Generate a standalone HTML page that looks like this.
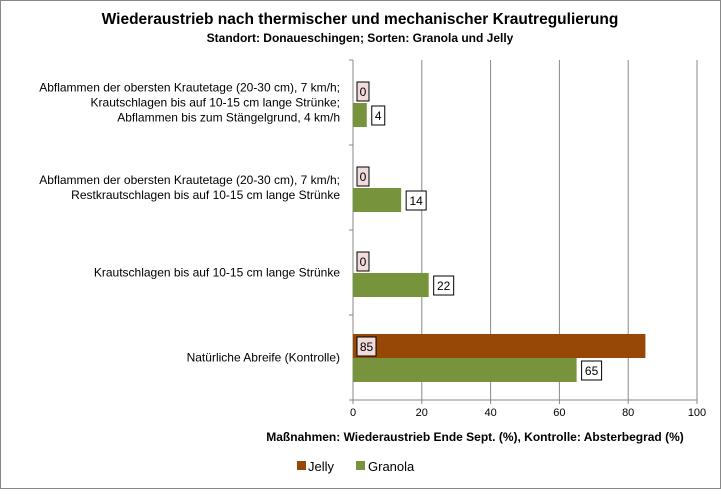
<!DOCTYPE html>
<html><head><meta charset="utf-8"><style>
body{margin:0;background:#fff;font-family:"Liberation Sans",Arial,sans-serif}
svg text{font-family:"Liberation Sans",Arial,sans-serif}
</style></head><body>
<svg id="c" width="721" height="489" xmlns="http://www.w3.org/2000/svg">
<rect x="0.5" y="0.5" width="720" height="488" fill="#fff" stroke="#888"/>
<text x="360" y="24" text-anchor="middle" font-size="15.5" font-weight="bold">Wiederaustrieb nach thermischer und mechanischer Krautregulierung</text>
<text x="360" y="42" text-anchor="middle" font-size="12" font-weight="bold">Standort: Donaueschingen;  Sorten: Granola und Jelly</text>
<text x="475" y="441" text-anchor="middle" font-size="12" font-weight="bold">Maßnahmen: Wiederaustrieb  Ende Sept. (%), Kontrolle: Absterbegrad  (%)</text>
<g>
<rect x="297" y="461" width="9" height="9" fill="#974706"/>
<text x="308" y="471" font-size="13">Jelly</text>
<rect x="356" y="461" width="9" height="9" fill="#77933c"/>
<text x="368" y="471" font-size="13">Granola</text>
</g>
<g id="plot"></g>
</svg>
<script>
const categories=[
 ["Abflammen der obersten Krautetage (20-30  cm), 7 km/h;","Krautschlagen bis auf 10-15  cm lange Strünke;","Abflammen bis zum Stängelgrund, 4  km/h"],
 ["Abflammen der obersten Krautetage (20-30  cm), 7 km/h;","Restkrautschlagen bis auf 10-15  cm lange Strünke"],
 ["Krautschlagen bis auf 10-15  cm lange Strünke"],
 ["Natürliche Abreife (Kontrolle)"]
];
const jelly=[0,0,0,85];
const granola=[4,14,22,65];
const ticks=[0,20,40,60,80,100];
const X0=353,X1=697,Y0=60,Y1=400;
const x=v=>X0+(v/100)*(X1-X0);
const band=(Y1-Y0)/categories.length;
const yb=i=>Y0+i*band;
const g=document.getElementById('plot');
const NS="http://www.w3.org/2000/svg";
function mk(t,a){const e=document.createElementNS(NS,t);for(const k in a)e.setAttribute(k,a[k]);g.appendChild(e);return e;}
ticks.forEach(t=>{
 if(t>0){const l=mk('line',{x1:x(t),x2:x(t),y1:Y0,y2:Y1,stroke:'#888'});
 
 }
 const tk=mk('line',{x1:x(t),x2:x(t),y1:Y1,y2:Y1+4,stroke:'#888'});
 
 
 const tx=mk('text',{x:x(t),y:Y1+16,'text-anchor':'middle','font-size':'11'});tx.textContent=t;
 
 
});
const ax=mk('line',{x1:X0,x2:X0,y1:Y0,y2:Y1,stroke:'#888'});


const bx=mk('line',{x1:X0,x2:X1,y1:Y1,y2:Y1,stroke:'#888'});


for(let i=0;i<=categories.length;i++){const t=mk('line',{x1:X0-4,x2:X0,y1:yb(i),y2:yb(i),stroke:'#888'});
 
 }
categories.forEach((lines,i)=>{
 const cy=yb(i)+band/2;
 lines.forEach((s,j)=>{
  const t=mk('text',{x:340,y:cy+4+(j-(lines.length-1)/2)*15,'text-anchor':'end','font-size':'12'});t.textContent=s;
  
  
 });
 const yj=yb(i)+19, yg=yj+24;
 const bj=mk('rect',{x:X0,y:yj,width:x(jelly[i])-X0,height:24,fill:'#974706'});
 
 
 const bg=mk('rect',{x:X0,y:yg,width:x(granola[i])-X0,height:24,fill:'#77933c'});
 
 
 // jelly label
 const wj=String(jelly[i]).length*7+5;
 const rj=mk('rect',{x:X0+4,y:yj+3,width:wj,height:19,fill:'#f2dcdb',stroke:'#000'});
 
 
 const tj=mk('text',{x:X0+4+wj/2,y:yj+17,'text-anchor':'middle','font-size':'12'});tj.textContent=jelly[i];
 
 
 const wg=String(granola[i]).length*7+6;
 const lx=x(granola[i])+5;
 const rg=mk('rect',{x:lx,y:yg+3,width:wg,height:19,fill:'#fff',stroke:'#000'});
 
 
 const tg=mk('text',{x:lx+wg/2,y:yg+17,'text-anchor':'middle','font-size':'12'});tg.textContent=granola[i];
 
 
});
</script>
</body></html>
